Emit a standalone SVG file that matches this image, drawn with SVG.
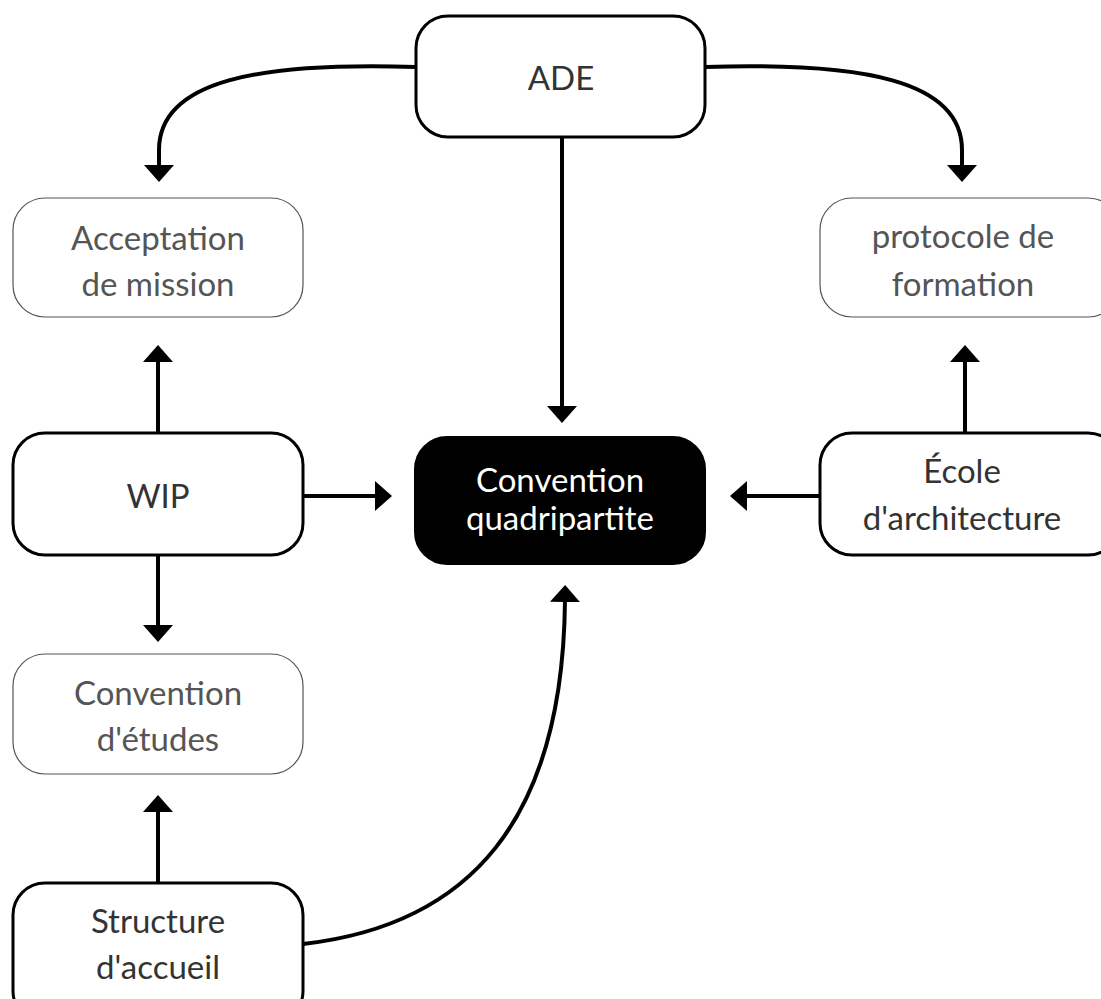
<svg xmlns="http://www.w3.org/2000/svg" width="1101" height="999" viewBox="0 0 1101 999">
<style>
  .bold rect { fill: #fff; stroke: #000; stroke-width: 3; }
  .thin rect { fill: #fff; stroke: #555; stroke-width: 1.2; }
  .dark rect { fill: #000; stroke: #000; stroke-width: 2; }
  text { font-family: Lato, "Liberation Sans", sans-serif; font-size: 33px; text-anchor: middle; }
  .bold text { fill: #333; }
  .thin text { fill: #555; }
  .dark text { fill: #fff; }
  .conn path { fill: none; stroke: #000; stroke-width: 4; marker-end: url(#arrow); }
</style>
<defs>
  <marker id="arrow" viewBox="0 0 17 30" refX="2" refY="15" markerWidth="17" markerHeight="30" markerUnits="userSpaceOnUse" orient="auto">
    <path d="M0,0 L17,15 L0,30 z" fill="#000"/>
  </marker>
</defs>
<rect width="1101" height="999" fill="#fff"/>
<g class="conn">
  <path d="M416,67 C260,62 159,80 159,150 L159,167"/>
  <path d="M705,67 C862,62 962,80 962,150 L962,167"/>
  <path d="M562,137 L562,408"/>
  <path d="M158,433 L158,360"/>
  <path d="M158,555 L158,627"/>
  <path d="M303,496 L377,496"/>
  <path d="M820,496 L745,496"/>
  <path d="M965,433 L965,360"/>
  <path d="M158,883 L158,810"/>
  <path d="M303,944 C470,925 563,820 565,600"/>
</g>
<g id="node-ade" class="bold">
  <rect x="416" y="16" width="289" height="121" rx="32"/>
  <text x="561" y="90">ADE</text>
</g>
<g id="node-acceptation" class="thin">
  <rect x="13" y="198" width="290" height="119" rx="32"/>
  <text x="158" y="250">Acceptation</text>
  <text x="158" y="296">de mission</text>
</g>
<g id="node-protocole" class="thin">
  <rect x="820" y="198" width="300" height="119" rx="32"/>
  <text x="963" y="248">protocole de</text>
  <text x="963" y="296">formation</text>
</g>
<g id="node-wip" class="bold">
  <rect x="13" y="433" width="290" height="122" rx="32"/>
  <text x="158" y="508">WIP</text>
</g>
<g id="node-convention-quadripartite" class="dark">
  <rect x="415" y="437" width="290" height="127" rx="32"/>
  <text x="560" y="492">Convention</text>
  <text x="560" y="530">quadripartite</text>
</g>
<g id="node-ecole" class="bold">
  <rect x="820" y="433" width="300" height="122" rx="32"/>
  <text x="962" y="483">École</text>
  <text x="962" y="530">d'architecture</text>
</g>
<g id="node-convention-etudes" class="thin">
  <rect x="13" y="654" width="290" height="120" rx="32"/>
  <text x="158" y="705">Convention</text>
  <text x="158" y="751">d'études</text>
</g>
<g id="node-structure" class="bold">
  <rect x="13" y="883" width="290" height="140" rx="32"/>
  <text x="158" y="933">Structure</text>
  <text x="158" y="979">d'accueil</text>
</g>
</svg>
